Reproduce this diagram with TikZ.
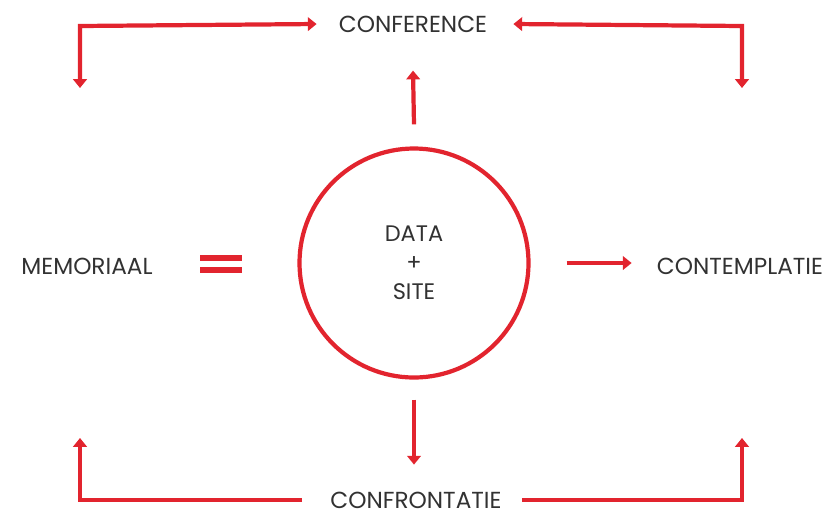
\documentclass[tikz,border=0pt]{standalone}
\usepackage{fontspec}
\setmainfont{Poppins}
\usetikzlibrary{arrows.meta, positioning, calc}
\definecolor{signalred}{RGB}{226,36,46}
\definecolor{inkgrey}{RGB}{50,50,50}

\begin{document}
\begin{tikzpicture}[x=0.025cm, y=-0.025cm,
    redline/.style={line width=3pt, signalred},
    redarrow/.style={redline, -{Triangle[length=0.22cm, width=0.34cm]}},
    redboth/.style={redline, {Triangle[length=0.22cm, width=0.34cm]}-{Triangle[length=0.22cm, width=0.34cm]}},
    label/.style={font=\fontsize{16.5}{19}\selectfont, text=inkgrey, inner sep=0pt}]
        \useasboundingbox (0,0) rectangle (836,522);

        % Labels
        \node[label] (conference) at (413,24) {CONFERENCE};
        \node[label] (memoriaal) at (87,266) {MEMORIAAL};
        \node[label] (contemplatie) at (740,266) {CONTEMPLATIE};
        \node[label] (confrontatie) at (416,500) {CONFRONTATIE};

        % Centre circle
        \node[circle, draw=signalred, line width=3pt, minimum size=229*0.025cm, inner sep=0pt] (hub) at (414,263) {};
        \node[label, align=center, font=\fontsize{16}{20.5}\selectfont] (hubtext) at (hub) {DATA\\+\\SITE};

        % Corner points and free ends
        \coordinate (topleft) at (80,26);
        \coordinate (topright) at (742,26);
        \coordinate (tlend) at (80,88);
        \coordinate (trend) at (742,88);
        \coordinate (blend) at (80,438);
        \coordinate (brend) at (742,438);

        % Top brackets
        \draw[redboth] (tlend) -- (topleft) -- ([xshift=-0.55cm]conference.west);
        \draw[redboth] ([xshift=0.65cm]conference.east) -- (topright) -- (trend);

        % Bottom brackets
        \draw[redarrow] ([xshift=-0.7cm]confrontatie.west) -| (blend);
        \draw[redarrow] ([xshift=0.5cm]confrontatie.east) -| (brend);

        % Spokes
        \draw[redarrow] ([yshift=0.55cm]hub.north) -- ([yshift=-0.95cm]conference.south);
        \draw[redarrow] ([yshift=-0.5cm]hub.south) -- ++(0,65);
        \draw[redarrow] ([xshift=0.9cm]hub.east) -- ++(65,0);

        % Equals sign
        \draw[redline, line width=4pt] (200,258) -- (242,258);
        \draw[redline, line width=4pt] (200,270) -- (242,270);
    \end{tikzpicture}
\end{document}
